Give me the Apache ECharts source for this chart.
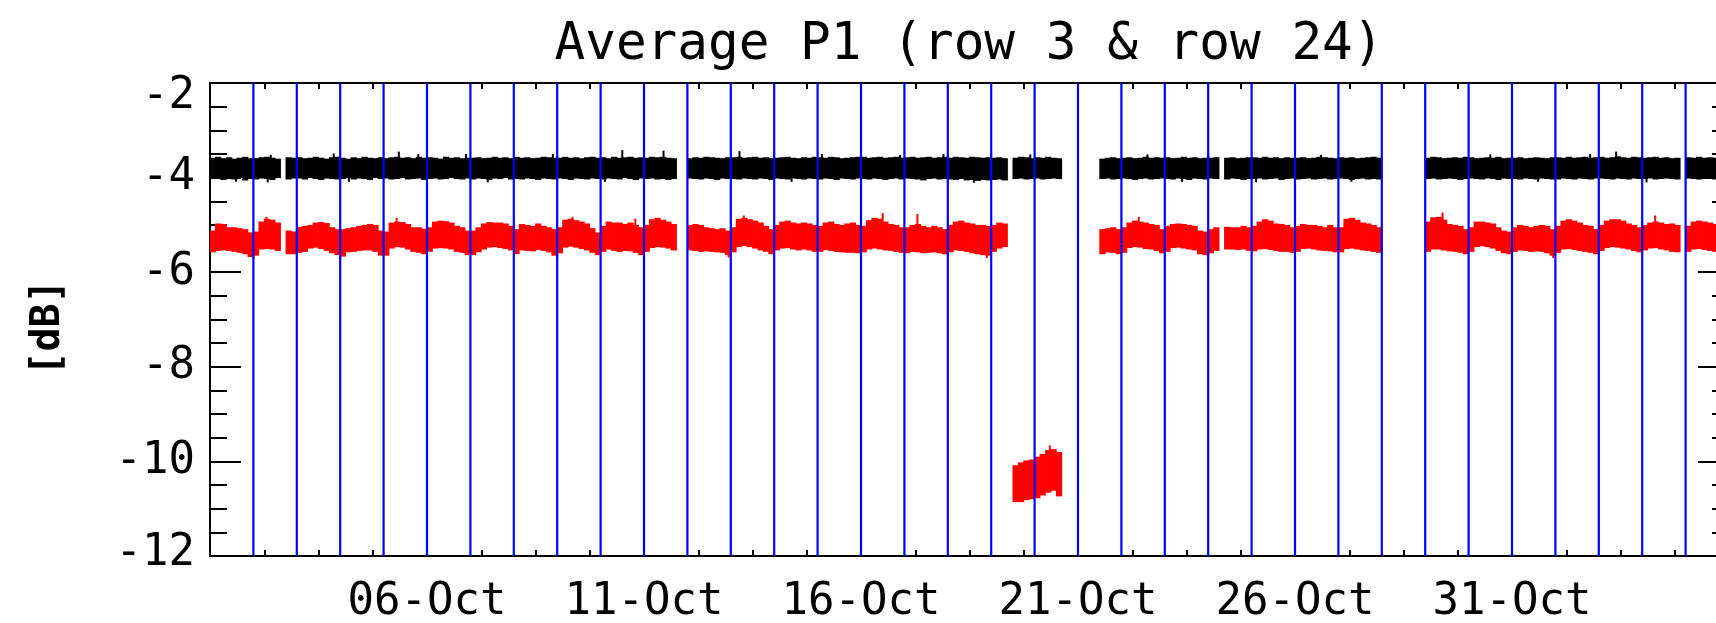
<!DOCTYPE html>
<html><head><meta charset="utf-8">
<script src="https://cdn.jsdelivr.net/npm/echarts@6/dist/echarts.min.js"></script>
<style>html,body{margin:0;padding:0;background:#fff;}#c{width:1716px;height:623px;}</style>
</head><body><div id="c"></div>
<script>
// ---- text ----
const titleText = 'Average P1 (row 3 & row 24)';
const yName = '[dB]';
// ---- x axis: days since 01-Oct 00:00 ----
const xMin = 0, xMax = 35;
const yMin = -12, yMax = -2;
const xTickDays = [5, 10, 15, 20, 25, 30];
const xTickLabels = ['06-Oct', '11-Oct', '16-Oct', '21-Oct', '26-Oct', '31-Oct'];
const dayLines = [1,2,3,4,5,6,7,8,9,10,11,12,13,14,15,16,17,18,19,20,21,22,23,24,25,26,27,28,29,30,31,32,33,34];
const binDays = 0.125; // 3-hour bins, one line = one day

// row 3 (black): band top / bottom per 3-hour bin
const blackHi = [
-3.58,-3.56,-3.59,-3.57,-3.60,-3.58,-3.56,-3.59,
-3.59,-3.57,-3.56,-3.58,-3.60,null,-3.57,-3.58,
-3.57,-3.59,-3.58,-3.56,-3.58,-3.60,-3.57,-3.56,
-3.58,-3.60,-3.57,-3.59,-3.56,-3.58,-3.59,-3.57,
-3.59,-3.57,-3.56,-3.58,-3.57,-3.59,-3.56,-3.58,
-3.57,-3.58,-3.60,-3.56,-3.58,-3.57,-3.59,-3.58,
-3.58,-3.57,-3.59,-3.58,-3.56,-3.58,-3.57,-3.59,
-3.56,-3.58,-3.57,-3.59,-3.58,-3.56,-3.57,-3.58,
-3.58,-3.56,-3.58,-3.57,-3.59,-3.57,-3.56,-3.58,
-3.57,-3.59,-3.56,-3.58,-3.57,-3.56,-3.58,-3.57,
-3.58,-3.56,-3.57,-3.56,-3.58,-3.59,null,null,
-3.59,-3.57,-3.58,-3.56,-3.57,-3.58,-3.59,-3.57,
-3.57,-3.56,-3.58,-3.57,-3.56,-3.58,-3.57,-3.59,
-3.58,-3.57,-3.56,-3.58,-3.59,-3.57,-3.58,-3.56,
-3.57,-3.58,-3.56,-3.57,-3.59,-3.58,-3.57,-3.56,
-3.56,-3.58,-3.57,-3.56,-3.58,-3.57,-3.56,-3.58,
-3.57,-3.56,-3.58,-3.57,-3.56,-3.58,-3.57,-3.56,
-3.58,-3.56,-3.57,-3.58,-3.56,-3.57,-3.58,-3.57,
-3.58,-3.57,-3.59,null,-3.58,-3.56,-3.57,-3.59,
-3.57,-3.58,-3.56,-3.58,-3.59,null,null,null,
null,null,null,null,-3.60,-3.58,-3.57,-3.59,
-3.58,-3.57,-3.59,-3.58,-3.56,-3.58,-3.57,-3.58,
-3.57,-3.59,-3.58,-3.56,-3.58,-3.57,-3.59,-3.58,
-3.58,-3.57,null,-3.58,-3.57,-3.59,-3.58,-3.57,
-3.57,-3.58,-3.56,-3.58,-3.57,-3.59,-3.57,-3.58,
-3.58,-3.57,-3.59,-3.58,-3.56,-3.57,-3.58,-3.59,
-3.57,-3.58,-3.57,-3.59,-3.58,-3.57,-3.56,-3.58,
null,null,null,null,null,null,null,null,
-3.58,-3.56,-3.57,-3.59,-3.58,-3.57,-3.58,-3.56,
-3.57,-3.59,-3.58,-3.57,-3.58,-3.56,-3.59,-3.58,
-3.58,-3.57,-3.59,-3.58,-3.57,-3.58,-3.59,-3.57,
-3.57,-3.58,-3.56,-3.58,-3.57,-3.56,-3.58,-3.57,
-3.56,-3.58,-3.57,-3.55,-3.57,-3.58,-3.56,-3.57,
-3.58,-3.57,-3.56,-3.58,-3.57,-3.59,-3.58,null,
-3.57,-3.58,-3.56,-3.58,-3.57,-3.58,-3.56,-3.58
];
const blackLo = [
-4.03,-4.01,-4.05,-4.02,-4.04,-4.01,-4.06,-4.03,
-4.04,-4.02,-4.03,-4.05,-4.01,null,-4.04,-4.02,
-4.02,-4.04,-4.01,-4.03,-4.05,-4.02,-4.03,-4.04,
-4.03,-4.01,-4.04,-4.02,-4.03,-4.05,-4.01,-4.03,
-4.02,-4.04,-4.03,-4.01,-4.04,-4.03,-4.02,-4.05,
-4.03,-4.02,-4.04,-4.03,-4.01,-4.03,-4.04,-4.02,
-4.04,-4.02,-4.03,-4.05,-4.02,-4.03,-4.01,-4.04,
-4.03,-4.04,-4.02,-4.03,-4.05,-4.02,-4.03,-4.04,
-4.02,-4.03,-4.05,-4.02,-4.03,-4.04,-4.02,-4.03,
-4.04,-4.02,-4.03,-4.04,-4.01,-4.03,-4.05,-4.02,
-4.03,-4.02,-4.04,-4.03,-4.05,-4.03,null,null,
-4.02,-4.03,-4.04,-4.02,-4.03,-4.05,-4.02,-4.03,
-4.03,-4.04,-4.02,-4.03,-4.04,-4.02,-4.03,-4.05,
-4.02,-4.03,-4.04,-4.02,-4.03,-4.04,-4.02,-4.03,
-4.04,-4.02,-4.03,-4.05,-4.02,-4.03,-4.04,-4.02,
-4.03,-4.04,-4.02,-4.03,-4.05,-4.03,-4.02,-4.04,
-4.02,-4.03,-4.04,-4.06,-4.03,-4.02,-4.04,-4.03,
-4.04,-4.05,-4.03,-4.06,-4.05,-4.07,-4.05,-4.06,
-4.05,-4.04,-4.06,null,-4.03,-4.02,-4.04,-4.03,
-4.02,-4.04,-4.03,-4.02,-4.03,null,null,null,
null,null,null,null,-4.03,-4.02,-4.04,-4.03,
-4.02,-4.03,-4.05,-4.03,-4.02,-4.04,-4.03,-4.02,
-4.03,-4.04,-4.02,-4.03,-4.05,-4.02,-4.03,-4.04,
-4.02,-4.03,null,-4.04,-4.02,-4.03,-4.05,-4.03,
-4.03,-4.02,-4.04,-4.03,-4.02,-4.05,-4.03,-4.02,
-4.04,-4.03,-4.02,-4.04,-4.03,-4.02,-4.04,-4.03,
-4.02,-4.03,-4.05,-4.03,-4.02,-4.04,-4.03,-4.04,
null,null,null,null,null,null,null,null,
-4.03,-4.02,-4.04,-4.03,-4.02,-4.03,-4.05,-4.03,
-4.02,-4.03,-4.04,-4.02,-4.03,-4.05,-4.02,-4.03,
-4.03,-4.04,-4.02,-4.03,-4.04,-4.02,-4.03,-4.04,
-4.04,-4.02,-4.03,-4.04,-4.02,-4.03,-4.04,-4.02,
-4.02,-4.03,-4.04,-4.02,-4.03,-4.04,-4.02,-4.03,
-4.03,-4.02,-4.04,-4.03,-4.02,-4.03,-4.04,null,
-4.02,-4.03,-4.04,-4.02,-4.03,-4.04,-4.03,-4.02
];
// row 24 (red): band top / bottom per 3-hour bin
const redHi = [
-5.12,-4.97,-4.98,-5.05,-5.05,-5.07,-5.09,-5.16,
-5.14,-4.93,-4.87,-4.89,-4.95,null,-5.12,-5.14,
-5.04,-5.02,-5.00,-4.95,-4.94,-4.96,-5.05,-5.09,
-5.09,-5.07,-5.05,-5.02,-5.00,-4.98,-5.00,-5.12,
-5.14,-4.95,-4.93,-4.94,-4.98,-5.05,-5.05,-5.08,
-5.05,-4.93,-4.91,-4.92,-4.95,-5.02,-5.05,-5.12,
-5.12,-5.05,-4.97,-4.94,-4.95,-4.95,-4.97,-5.02,
-5.09,-4.98,-5.00,-5.02,-4.97,-5.02,-5.05,-5.09,
-5.05,-4.89,-4.87,-4.90,-4.93,-4.97,-5.07,-5.16,
-5.02,-4.93,-4.95,-4.95,-4.98,-4.95,-5.00,-5.05,
-5.00,-4.88,-4.85,-4.89,-4.93,-4.98,null,null,
-5.00,-4.98,-5.00,-5.05,-5.07,-5.09,-5.07,-5.12,
-5.05,-4.87,-4.85,-4.88,-4.91,-4.95,-5.02,-5.09,
-5.00,-4.93,-4.91,-4.95,-4.97,-4.95,-4.97,-5.00,
-5.02,-4.95,-4.93,-4.98,-5.00,-4.97,-4.95,-5.00,
-5.02,-4.90,-4.85,-4.87,-4.93,-4.98,-5.00,-5.05,
-5.05,-5.00,-4.98,-5.02,-5.05,-5.02,-5.05,-5.09,
-5.00,-4.93,-4.91,-4.95,-4.97,-5.00,-5.00,-5.02,
-5.00,-4.95,-4.97,null,-10.08,-10.02,-9.98,-9.96,
-9.90,-9.84,-9.76,-9.74,-9.80,null,null,null,
null,null,null,null,-5.09,-5.07,-5.05,-5.09,
-5.05,-4.95,-4.91,-4.93,-4.95,-4.98,-5.00,-5.09,
-5.02,-4.98,-4.97,-4.98,-5.00,-5.02,-5.12,-5.14,
-5.09,-5.05,null,-5.04,-5.05,-5.05,-5.02,-5.05,
-5.02,-4.93,-4.88,-4.91,-4.97,-4.98,-5.00,-5.05,
-5.02,-4.98,-5.00,-5.00,-5.02,-5.05,-5.00,-5.05,
-5.05,-4.87,-4.85,-4.89,-4.95,-4.97,-5.00,-5.05,
null,null,null,null,null,null,null,null,
-4.93,-4.84,-4.83,-4.89,-4.98,-5.00,-5.02,-5.09,
-5.05,-4.93,-4.93,-4.95,-4.97,-5.05,-5.12,-5.14,
-5.05,-5.00,-5.02,-5.05,-5.02,-5.00,-5.02,-5.09,
-5.02,-4.91,-4.88,-4.91,-4.95,-5.00,-5.02,-5.09,
-5.00,-4.91,-4.88,-4.88,-4.91,-4.97,-5.00,-5.05,
-5.00,-4.95,-4.93,-4.95,-4.98,-4.97,-5.00,null,
-5.02,-4.93,-4.91,-4.93,-4.95,-4.98,-5.00,-5.05
];
const redLo = [
-5.58,-5.55,-5.54,-5.55,-5.57,-5.59,-5.62,-5.68,
-5.65,-5.52,-5.51,-5.52,-5.55,null,-5.62,-5.62,
-5.59,-5.57,-5.50,-5.48,-5.51,-5.55,-5.60,-5.64,
-5.67,-5.58,-5.57,-5.55,-5.54,-5.54,-5.57,-5.65,
-5.65,-5.50,-5.47,-5.48,-5.52,-5.57,-5.59,-5.62,
-5.57,-5.50,-5.49,-5.50,-5.52,-5.57,-5.59,-5.64,
-5.64,-5.58,-5.52,-5.48,-5.47,-5.49,-5.51,-5.54,
-5.62,-5.54,-5.55,-5.56,-5.53,-5.55,-5.58,-5.65,
-5.60,-5.48,-5.46,-5.48,-5.51,-5.54,-5.59,-5.64,
-5.57,-5.52,-5.55,-5.57,-5.55,-5.56,-5.59,-5.64,
-5.57,-5.49,-5.47,-5.48,-5.50,-5.54,null,null,
-5.54,-5.55,-5.57,-5.56,-5.57,-5.58,-5.59,-5.64,
-5.58,-5.47,-5.45,-5.47,-5.50,-5.54,-5.57,-5.62,
-5.54,-5.50,-5.49,-5.52,-5.54,-5.52,-5.54,-5.57,
-5.57,-5.53,-5.55,-5.57,-5.58,-5.59,-5.59,-5.60,
-5.58,-5.52,-5.50,-5.52,-5.54,-5.55,-5.57,-5.59,
-5.60,-5.57,-5.58,-5.60,-5.59,-5.58,-5.60,-5.62,
-5.58,-5.54,-5.55,-5.57,-5.60,-5.62,-5.64,-5.65,
-5.57,-5.50,-5.47,null,-10.86,-10.86,-10.82,-10.80,
-10.78,-10.72,-10.66,-10.62,-10.74,null,null,null,
null,null,null,null,-5.62,-5.58,-5.59,-5.62,
-5.59,-5.49,-5.47,-5.48,-5.51,-5.52,-5.55,-5.60,
-5.57,-5.49,-5.48,-5.50,-5.52,-5.54,-5.62,-5.64,
-5.60,-5.55,null,-5.52,-5.52,-5.53,-5.52,-5.55,
-5.56,-5.52,-5.51,-5.53,-5.55,-5.57,-5.57,-5.59,
-5.57,-5.51,-5.50,-5.52,-5.54,-5.55,-5.56,-5.58,
-5.58,-5.51,-5.50,-5.52,-5.54,-5.55,-5.57,-5.59,
null,null,null,null,null,null,null,null,
-5.57,-5.52,-5.52,-5.54,-5.56,-5.57,-5.59,-5.62,
-5.57,-5.47,-5.45,-5.47,-5.50,-5.55,-5.60,-5.62,
-5.57,-5.54,-5.55,-5.57,-5.56,-5.57,-5.60,-5.65,
-5.59,-5.52,-5.51,-5.53,-5.55,-5.57,-5.59,-5.62,
-5.55,-5.49,-5.47,-5.48,-5.50,-5.52,-5.55,-5.58,
-5.54,-5.50,-5.49,-5.52,-5.54,-5.57,-5.58,null,
-5.57,-5.52,-5.51,-5.53,-5.55,-5.57,-5.58,-5.59
];
// isolated excursions beyond the band: [day, value]
const blackSpikes = [
[1.4,-3.52],[2.85,-3.49],[4.35,-3.45],[4.8,-3.50],[5.9,-3.50],[7.9,-3.50],[9.5,-3.42],
[10.45,-3.43],[12.2,-3.44],[14.1,-3.50],[15.0,-3.50],[15.9,-3.52],[16.9,-3.50],[18.9,-3.51],
[21.6,-3.51],[23.0,-3.52],[25.6,-3.52],[29.5,-3.51],[31.8,-3.50],[32.4,-3.45],
[0.6,-4.09],[1.33,-4.10],[3.2,-4.09],[6.4,-4.10],[9.1,-4.09],[13.4,-4.09],[17.6,-4.11],
[22.4,-4.09],[24.1,-4.10],[26.3,-4.09],[30.6,-4.09],[33.1,-4.10]
];
const redSpikes = [
[1.3,-4.83],[4.3,-4.85],[8.35,-4.83],[9.8,-4.87],[12.3,-4.80],[15.5,-4.75],[16.3,-4.77],
[21.4,-4.83],[28.4,-4.74],[33.3,-4.80],[19.35,-9.66],
[1.0,-5.72],[3.0,-5.72],[8.0,-5.70],[11.95,-5.69],[17.9,-5.70],[23.0,-5.70],[30.95,-5.70]
];

// ---- build series data ----
function bands(hi, lo) {
  const out = [];
  for (let i = 0; i < hi.length; i++) {
    if (hi[i] == null || lo[i] == null) continue;
    out.push([i * binDays, (i + 1) * binDays, lo[i], hi[i]]);
  }
  return out;
}
function spikes(list, hi, lo) {
  const out = [];
  list.forEach(function (s) {
    const i = Math.floor(s[0] / binDays);
    if (hi[i] == null || lo[i] == null) return;
    out.push([s[0], (hi[i] + lo[i]) / 2, s[1]]);
  });
  return out;
}
function rectRender(color) {
  return function (params, api) {
    const a = api.coord([api.value(0), api.value(3)]);
    const b = api.coord([api.value(1), api.value(2)]);
    return { type: 'rect', shape: { x: a[0] - 0.4, y: a[1], width: b[0] - a[0] + 0.8, height: b[1] - a[1] },
             style: { fill: color } };
  };
}
function vlineRender(color, w) {
  return function (params, api) {
    const a = api.coord([api.value(0), api.value(1)]);
    const b = api.coord([api.value(0), api.value(2)]);
    return { type: 'line', shape: { x1: a[0], y1: a[1], x2: b[0], y2: b[1] },
             style: { stroke: color, lineWidth: w } };
  };
}

const FONT = "'DejaVu Sans Mono', monospace";
const axLine = { show: true, onZero: false, lineStyle: { color: '#000', width: 2 } };
function xAx(pos, showLabel) {
  return {
    type: 'value', position: pos, min: xMin, max: xMax, interval: 5,
    axisLine: axLine, splitLine: { show: false },
    axisTick: { show: true, inside: true, length: 11, lineStyle: { color: '#000', width: 2 } },
    minorTick: { show: true, splitNumber: 4, length: 6, lineStyle: { color: '#000', width: 2 } },
    minorSplitLine: { show: false },
    axisLabel: {
      show: showLabel, margin: 25, fontFamily: FONT, fontSize: 44, color: '#000',
      formatter: function (v) { const i = xTickDays.indexOf(v); return i < 0 ? '' : xTickLabels[i]; }
    }
  };
}
function yAx(pos, showLabel) {
  const ax = {
    type: 'value', position: pos, min: yMin, max: yMax, interval: 2,
    axisLine: axLine, splitLine: { show: false },
    axisTick: { show: true, inside: true, length: 31, lineStyle: { color: '#000', width: 2 } },
    minorTick: { show: true, splitNumber: 4, length: 17, lineStyle: { color: '#000', width: 2 } },
    minorSplitLine: { show: false },
    axisLabel: {
      show: showLabel, margin: 15, color: '#000', fontFamily: FONT, fontSize: 44,
      formatter: function (v) {
        if (v === yMax) return '{t|' + v + '}';
        if (v === yMin) return '{b|' + v + '}';
        return '{n|' + v + '}';
      },
      rich: {
        t: { fontFamily: FONT, fontSize: 44, color: '#000', padding: [28, 0, 0, 0] },
        b: { fontFamily: FONT, fontSize: 44, color: '#000', padding: [0, 0, 4, 0] },
        n: { fontFamily: FONT, fontSize: 44, color: '#000' }
      }
    }
  };
  if (showLabel) {
    ax.name = yName; ax.nameLocation = 'middle'; ax.nameGap = 141;
    ax.nameTextStyle = { fontFamily: FONT, fontSize: 40, fontWeight: 'bold', color: '#000', padding: [0, 16, 0, 0] };
  }
  return ax;
}

const chart = echarts.init(document.getElementById('c'), null, { renderer: 'canvas' });
chart.setOption({
  animation: false,
  backgroundColor: '#ffffff',
  title: {
    text: titleText, left: 969, top: 20, textAlign: 'center', padding: 0,
    textStyle: { fontFamily: FONT, fontSize: 51, fontWeight: 'normal', color: '#000' }
  },
  grid: { left: 210, top: 83, width: 1519, height: 473, containLabel: false, outerBoundsMode: 'none' },
  xAxis: [xAx('bottom', true), xAx('top', false)],
  yAxis: [yAx('left', true), yAx('right', false)],
  series: [
    { name: 'row 3', type: 'custom', silent: true, clip: true, z: 2,
      encode: { x: [0, 1], y: [2, 3] }, data: bands(blackHi, blackLo), renderItem: rectRender('#000000') },
    { name: 'row 24', type: 'custom', silent: true, clip: true, z: 2,
      encode: { x: [0, 1], y: [2, 3] }, data: bands(redHi, redLo), renderItem: rectRender('#ff0000') },
    { name: 'row 3 spikes', type: 'custom', silent: true, clip: true, z: 2,
      encode: { x: 0, y: [1, 2] }, data: spikes(blackSpikes, blackHi, blackLo), renderItem: vlineRender('#000000', 2) },
    { name: 'row 24 spikes', type: 'custom', silent: true, clip: true, z: 2,
      encode: { x: 0, y: [1, 2] }, data: spikes(redSpikes, redHi, redLo), renderItem: vlineRender('#ff0000', 2) },
    { name: 'days', type: 'custom', silent: true, clip: true, z: 5,
      encode: { x: 0, y: [1, 2] }, data: dayLines.map(function (d) { return [d, yMin, yMax]; }),
      renderItem: vlineRender('#0000ff', 2.2) }
  ]
});
</script>
</body></html>
